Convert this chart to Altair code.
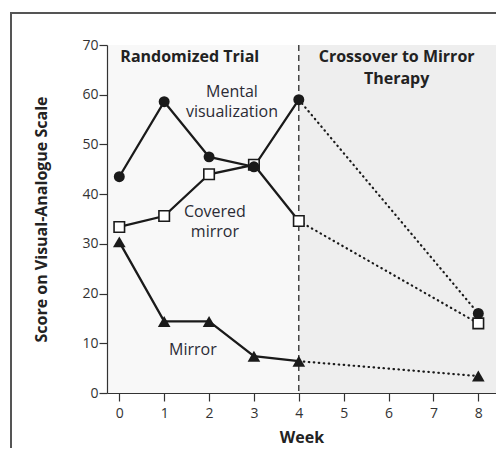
import altair as alt
import pandas as pd

weeks = [0, 1, 2, 3, 4, 8]
mental = [43.5, 58.6, 47.5, 45.5, 59.0, 16.0]
covered = [33.4, 35.6, 44.0, 45.9, 34.6, 14.0]
mirror = [30.4, 14.4, 14.4, 7.4, 6.4, 3.4]

x_ticks = [0, 1, 2, 3, 4, 5, 6, 7, 8]
y_ticks = [0, 10, 20, 30, 40, 50, 60, 70]
crossover_week = 4

FONT = "Open Sans"
INK = "#1a1a1a"

rows = []
for name, vals in [("Mental visualization", mental), ("Covered mirror", covered), ("Mirror", mirror)]:
    for w, v in zip(weeks, vals):
        rows.append({"group": name, "week": w, "score": v})
df = pd.DataFrame(rows)
trial = df[df.week <= crossover_week]
cross = df[df.week >= crossover_week]

xdom = [-0.274, 8.394]
XS = alt.Scale(domain=xdom, nice=False, zero=False)
X = alt.X("week:Q", scale=XS,
          axis=alt.Axis(values=x_ticks, title="Week", format="d", grid=False))
Y = alt.Y("score:Q", scale=alt.Scale(domain=[0, 70], nice=False),
          axis=alt.Axis(values=y_ticks, title="Score on Visual-Analogue Scale", grid=False))

region = pd.DataFrame({"x0": [crossover_week], "x1": [xdom[1]]})
shade = alt.Chart(region).mark_rect(color="#eeeeee").encode(
    x=alt.X("x0:Q", scale=XS), x2="x1:Q",
    y=alt.value(0), y2=alt.value(348))

vline = alt.Chart(pd.DataFrame({"w": [crossover_week]})).mark_rule(
    color=INK, strokeDash=[6, 4], strokeWidth=1.2).encode(
    x=alt.X("w:Q", scale=XS), y=alt.value(0), y2=alt.value(348))

solid = alt.Chart(trial).mark_line(color=INK, strokeWidth=2.3).encode(x=X, y=Y, detail="group:N")
dotted = alt.Chart(cross).mark_line(color=INK, strokeWidth=2.2, strokeDash=[0.5, 4.5],
                                    strokeCap="round").encode(x=X, y=Y, detail="group:N")

circ = alt.Chart(df[df.group == "Mental visualization"]).mark_point(
    shape="circle", filled=True, color=INK, size=120, opacity=1).encode(x=X, y=Y)
sq = alt.Chart(df[df.group == "Covered mirror"]).mark_point(
    shape="square", filled=True, fill="white", stroke=INK, strokeWidth=1.6, size=110, opacity=1).encode(x=X, y=Y)
tri = alt.Chart(df[df.group == "Mirror"]).mark_point(
    shape="triangle-up", filled=True, color=INK, size=160, opacity=1).encode(x=X, y=Y)

heads = pd.DataFrame({
    "text": ["Randomized Trial", "Crossover to Mirror\nTherapy"],
    "week": [1.57, 6.18],
    "score": [67.6, 67.6],
})
head_text = alt.Chart(heads).mark_text(font=FONT, fontSize=16, fontWeight="bold", color="#222222",
                                       lineBreak="\n", lineHeight=22).encode(
    x=alt.X("week:Q", scale=XS), y="score:Q", text="text:N")

labels = pd.DataFrame({
    "text": ["Mental\nvisualization", "Covered\nmirror", "Mirror"],
    "week": [2.51, 2.13, 1.64],
    "score": [60.6, 36.4, 8.6],
})
lab_text = alt.Chart(labels).mark_text(font=FONT, fontSize=16, color="#2b2b35",
                                       lineBreak="\n", lineHeight=20).encode(
    x=alt.X("week:Q", scale=XS), y="score:Q", text="text:N")

frame = alt.Chart(pd.DataFrame({"a": [0]})).mark_rect(
    fill=None, stroke="#555555", strokeWidth=2).encode(
    x=alt.value(-96), x2=alt.value(520), y=alt.value(-32), y2=alt.value(520))

chart = alt.layer(shade, frame, vline, solid, dotted, sq, circ, tri, head_text, lab_text).properties(
    width=389, height=348,
    autosize=alt.AutoSizeParams(type="none"),
    padding={"left": 99, "top": 37, "right": 0, "bottom": 55},
).configure_view(fill="#f8f8f8", stroke=None).configure_axis(
    labelFont=FONT, titleFont=FONT, labelFontSize=14, titleFontSize=16,
    titleFontWeight="bold", labelColor="#333333", titleColor="#222222",
    domainColor="#333333", tickColor="#333333", tickSize=8, domainWidth=1.2, tickWidth=1.2,
).configure_axisY(titlePadding=32, labelPadding=1).configure_axisX(titlePadding=9, labelPadding=5)

chart.save("out.html", embed_options={"renderer": "svg", "actions": False})
